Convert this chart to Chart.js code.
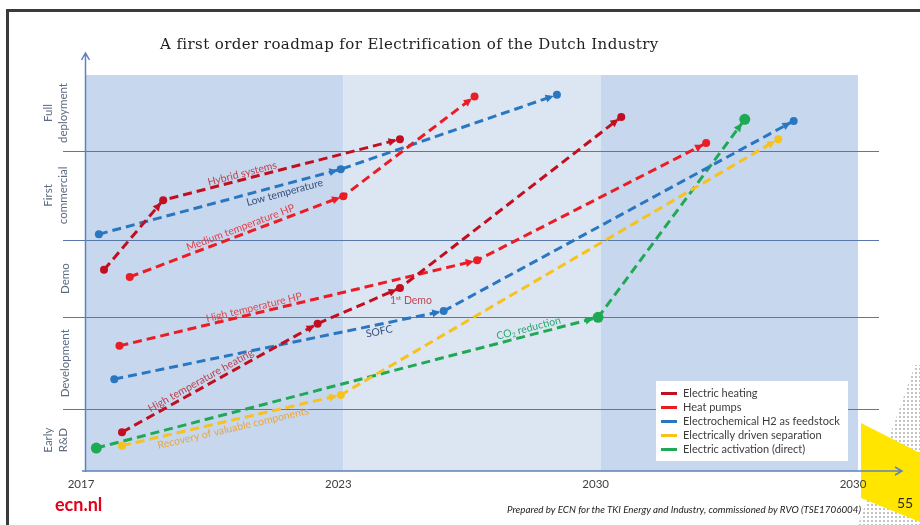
<!DOCTYPE html>
<html>
<head>
<meta charset="utf-8">
<script src="https://cdn.jsdelivr.net/npm/chart.js@4/dist/chart.umd.min.js"></script>
<style>
  html, body { margin: 0; padding: 0; background: #fff; }
  #slide { position: relative; width: 920px; height: 525px; overflow: hidden; background: #fff; }
  #roadmap { position: absolute; left: 0; top: 0; z-index: 2; }
  .frame { position: absolute; left: 6px; top: 9px; width: 960px; height: 560px; z-index: 3;
           border-top: 3px solid #3a3a3a; border-left: 3px solid #3a3a3a; }
  #title { position: absolute; left: 160px; top: 35px; font-family: "DejaVu Serif"; font-size: 15px;
           letter-spacing: 0.4px; color: #1e1e1e; white-space: nowrap; z-index: 3; }
  #brand { position: absolute; left: 55px; top: 493px; font-family: Lato; font-weight: bold;
           font-size: 18px; color: #e2001a; z-index: 3; }
  #credit { position: absolute; left: 507px; top: 503px; font-family: Lato; font-style: italic;
            font-size: 9.8px; color: #222; white-space: nowrap; z-index: 3; }
  #dots { position: absolute; left: 850px; top: 355px; width: 70px; height: 170px; z-index: 1;
          background-image: radial-gradient(circle, #c4c4c4 0.9px, transparent 1.2px);
          background-size: 4px 4px;
          clip-path: polygon(65px 10px, 70px 10px, 70px 170px, 8px 170px); }
  #flash { position: absolute; left: 861px; top: 423px; width: 59px; height: 100px; background: #ffe500; z-index: 1;
           clip-path: polygon(0 0, 59px 30px, 59px 99px, 0 75px); }
  #page { position: absolute; left: 897px; top: 494px; font-family: Lato; font-size: 14px; color: #2b2b2b; z-index: 3; }
</style>
</head>
<body>
<div id="slide">
  <div id="dots"></div>
  <div id="flash"></div>
  <canvas id="roadmap" width="920" height="525"></canvas>
  <div class="frame"></div>
  <div id="title">A first order roadmap for Electrification of the Dutch Industry</div>
  <div id="brand">ecn.nl</div>
  <div id="credit">Prepared by ECN for the TKI Energy and Industry, commissioned by RVO (TSE1706004)</div>
  <div id="page">55</div>
</div>
<script>
// ---- Axis labels -------------------------------------------------------
// x: planning period (0 = 2017, 1 = 2023, 2 = 2030, 3 = end of horizon)
const periodLabels = ['2017', '2023', '2030', '2030'];
// y: maturity stages, bottom to top, and the maturity level where each stage ends
const stageNames = [['Early', 'R&D'], ['Development'], ['Demo'], ['First', 'commercial'], ['Full', 'deployment']];
const stageBounds = [0.78, 1.94, 2.92, 4.04];

// ---- Technology groups -------------------------------------------------
const groupNames = ['Electric heating', 'Heat pumps', 'Electrochemical H2 as feedstock',
                    'Electrically driven separation', 'Electric activation (direct)'];
const groupColors = ['#c10f1f', '#ec1c24', '#2a77c1', '#f7c21b', '#1fa955'];

// ---- Roadmap paths (period, maturity) ---------------------------------
// Electric heating
const hybridSystemsX   = [0.07, 0.30, 1.22];
const hybridSystemsY   = [2.54, 3.42, 4.19];
const highTempHeatingX = [0.14, 0.90, 1.22, 2.08];
const highTempHeatingY = [0.49, 1.86, 2.31, 4.47];
// Heat pumps
const mediumTempHpX = [0.17, 1.00, 1.51];
const mediumTempHpY = [2.45, 3.47, 4.73];
const highTempHpX   = [0.13, 1.52, 2.41];
const highTempHpY   = [1.58, 2.66, 4.14];
// Electrochemical H2 as feedstock
const lowTempX = [0.05, 0.99, 1.83];
const lowTempY = [2.99, 3.81, 4.75];
const sofcX    = [0.11, 1.39, 2.75];
const sofcY    = [1.16, 2.02, 4.42];
// Electrically driven separation
const recoveryX = [0.14, 0.99, 2.69];
const recoveryY = [0.32, 0.96, 4.19];
// Electric activation (direct)
const co2ReductionX = [0.04, 1.99, 2.56];
const co2ReductionY = [0.29, 1.94, 4.44];

const routes = [
  { name: 'Hybrid systems',                  group: 0, x: hybridSystemsX,   y: hybridSystemsY },
  { name: 'High temperature heating',        group: 0, x: highTempHeatingX, y: highTempHeatingY },
  { name: 'Medium temperature HP',           group: 1, x: mediumTempHpX,    y: mediumTempHpY },
  { name: 'High temperature HP',             group: 1, x: highTempHpX,      y: highTempHpY },
  { name: 'Low temperature',                 group: 2, x: lowTempX,         y: lowTempY },
  { name: 'SOFC',                            group: 2, x: sofcX,            y: sofcY },
  { name: 'Recovery of valuable components', group: 3, x: recoveryX,        y: recoveryY },
  { name: 'CO2 reduction',                   group: 4, x: co2ReductionX,    y: co2ReductionY },
];

// Where each path caption sits: segment, fraction along it, offset across it (px, + = below)
const captionStyle = [
  { route: 0, seg: 1, t: 0.34, off: -6, color: '#c4404e', parts: [{ s: 'Hybrid systems' }] },
  { route: 1, seg: 0, t: 0.42, off: -7, color: '#b8404c', parts: [{ s: 'High temperature heating' }] },
  { route: 2, seg: 0, t: 0.53, off: -7, color: '#e6404a', parts: [{ s: 'Medium temperature HP' }] },
  { route: 3, seg: 0, t: 0.38, off: -6, color: '#dc4a4c', parts: [{ s: 'High temperature HP' }] },
  { route: 4, seg: 0, t: 0.76, off: 8,  color: '#34507c', parts: [{ s: 'Low temperature' }] },
  { route: 5, seg: 0, t: 0.80, off: 7,  color: '#34507c', parts: [{ s: 'SOFC' }] },
  { route: 6, seg: 0, t: 0.50, off: 8,  color: '#eda53a', parts: [{ s: 'Recovery of valuable components' }] },
  { route: 7, seg: 0, t: 0.865, off: -7, color: '#2aa66c', parts: [{ s: 'CO' }, { s: '2', sub: true }, { s: ' reduction' }] },
  { route: 1, seg: 2, t: 0, dx: 11, dy: 13, flat: true, color: '#c4485a',
    parts: [{ s: '1' }, { s: 'st', sup: true }, { s: ' Demo' }] },
];

const FONT = 'Lato, "Open Sans", sans-serif';

function drawRich(ctx, parts, size) {
  const small = size * 0.62;
  let w = 0;
  const widths = parts.map(p => {
    ctx.font = (p.sup || p.sub ? small : size) + 'px ' + FONT;
    const m = ctx.measureText(p.s).width;
    w += m;
    return m;
  });
  let x = -w / 2;
  parts.forEach((p, i) => {
    ctx.font = (p.sup || p.sub ? small : size) + 'px ' + FONT;
    const dy = p.sup ? -size * 0.32 : (p.sub ? size * 0.28 : 0);
    ctx.fillText(p.s, x, dy);
    x += widths[i];
  });
}

const roadmapDecor = {
  id: 'roadmapDecor',
  beforeDatasetsDraw(chart) {
    const { ctx, chartArea: a, scales: { x, y } } = chart;
    ctx.save();
    // period bands
    const bandFill = ['#c7d7ee', '#dce5f2', '#c7d7ee'];
    for (let i = 0; i < 3; i++) {
      const l = x.getPixelForValue(i), r = x.getPixelForValue(i + 1);
      ctx.fillStyle = bandFill[i];
      ctx.fillRect(l, a.top, r - l, a.bottom - a.top);
    }
    // stage boundaries
    ctx.strokeStyle = '#5878aa';
    ctx.lineWidth = 1.2;
    stageBounds.forEach(v => {
      const py = Math.round(y.getPixelForValue(v)) + 0.5;
      ctx.beginPath();
      ctx.moveTo(a.left - 23, py);
      ctx.lineTo(a.right + 21, py);
      ctx.stroke();
    });
    // axes with open arrow heads
    ctx.strokeStyle = '#5d83ba';
    ctx.lineWidth = 1.5;
    const x0 = a.left - 0.5, y0 = a.bottom;
    ctx.beginPath();
    ctx.moveTo(x0, y0 + 1); ctx.lineTo(x0, a.top - 22);
    ctx.moveTo(x0 - 4, a.top - 15); ctx.lineTo(x0, a.top - 22); ctx.lineTo(x0 + 4, a.top - 15);
    ctx.moveTo(a.left - 4, y0); ctx.lineTo(a.right + 44, y0);
    ctx.moveTo(a.right + 37, y0 - 4); ctx.lineTo(a.right + 44, y0); ctx.lineTo(a.right + 37, y0 + 4);
    ctx.stroke();
    ctx.restore();
  },
  afterDatasetsDraw(chart) {
    const { ctx, chartArea: a } = chart;
    ctx.save();
    // arrow heads at the end of every path segment
    chart.data.datasets.forEach((ds, di) => {
      const pts = chart.getDatasetMeta(di).data;
      const r = ds.pointRadius;
      ctx.fillStyle = ds.borderColor;
      for (let i = 1; i < pts.length; i++) {
        const p0 = pts[i - 1], p1 = pts[i];
        const dx = p1.x - p0.x, dy = p1.y - p0.y, len = Math.hypot(dx, dy);
        const ux = dx / len, uy = dy / len;
        const tx = p1.x - ux * (r - 0.5), ty = p1.y - uy * (r - 0.5);
        const bx = tx - ux * 8, by = ty - uy * 8;
        ctx.beginPath();
        ctx.moveTo(tx, ty);
        ctx.lineTo(bx - uy * 4, by + ux * 4);
        ctx.lineTo(bx + uy * 4, by - ux * 4);
        ctx.closePath();
        ctx.fill();
      }
    });
    // path captions
    ctx.textBaseline = 'middle';
    ctx.textAlign = 'left';
    captionStyle.forEach(c => {
      const pts = chart.getDatasetMeta(c.route).data;
      const p0 = pts[c.seg], p1 = pts[c.seg + 1];
      const dx = p1.x - p0.x, dy = p1.y - p0.y, len = Math.hypot(dx, dy);
      const ux = dx / len, uy = dy / len;
      ctx.save();
      ctx.fillStyle = c.color;
      if (c.flat) {
        ctx.translate(p0.x + c.dx, p0.y + c.dy);
      } else {
        const px = p0.x + dx * c.t - uy * c.off;
        const py = p0.y + dy * c.t + ux * c.off;
        ctx.translate(px, py);
        ctx.rotate(Math.atan2(dy, dx));
      }
      drawRich(ctx, c.parts, 10.5);
      ctx.restore();
    });
    // legend box
    const lx = a.right - 202, ly = a.bottom - 90;
    ctx.fillStyle = '#ffffff';
    ctx.fillRect(lx, ly, 192, 80);
    ctx.font = '11px ' + FONT;
    groupNames.forEach((name, i) => {
      const ry = ly + 12.5 + i * 14;
      ctx.fillStyle = groupColors[i];
      ctx.fillRect(lx + 5, ry - 1.5, 16, 3);
      ctx.fillStyle = '#3c3c3c';
      ctx.fillText(name, lx + 27, ry);
    });
    ctx.restore();
  },
  afterDraw(chart) {
    const { ctx, chartArea: a, scales: { y } } = chart;
    ctx.save();
    ctx.fillStyle = '#5d6b80';
    ctx.font = '11.5px ' + FONT;
    ctx.textAlign = 'center';
    ctx.textBaseline = 'middle';
    const edges = [0, ...stageBounds, 5];
    stageNames.forEach((lines, i) => {
      const cy = (y.getPixelForValue(edges[i]) + y.getPixelForValue(edges[i + 1])) / 2;
      lines.forEach((txt, k) => {
        const cx = lines.length === 1 ? a.left - 21 : a.left - 38 + k * 15;
        ctx.save();
        ctx.translate(cx, cy);
        ctx.rotate(-Math.PI / 2);
        ctx.fillText(txt, 0, 0);
        ctx.restore();
      });
    });
    ctx.restore();
  }
};

const datasets = routes.map(r => ({
  label: r.name,
  data: r.x.map((v, i) => ({ x: v, y: r.y[i] })),
  borderColor: groupColors[r.group],
  backgroundColor: groupColors[r.group],
  pointBackgroundColor: groupColors[r.group],
  pointBorderWidth: 0,
  pointRadius: r.group === 4 ? 5.5 : 4,
  borderWidth: 3,
  borderDash: [9, 5],
  borderCapStyle: 'butt',
  tension: 0,
  fill: false
}));

new Chart(document.getElementById('roadmap'), {
  type: 'line',
  data: { datasets },
  options: {
    responsive: false,
    animation: false,
    devicePixelRatio: 1,
    layout: { padding: { left: 86, right: 62, top: 75, bottom: 0 } },
    plugins: { legend: { display: false }, tooltip: { enabled: false } },
    scales: {
      x: {
        type: 'linear', min: 0, max: 3, position: 'bottom',
        grid: { display: false, drawTicks: false },
        border: { display: false },
        ticks: {
          stepSize: 1, autoSkip: false, maxRotation: 0, padding: 6, labelOffset: -5,
          color: '#404040', font: { family: FONT, size: 11.5 },
          callback: v => periodLabels[v] ?? ''
        },
        afterFit: s => { s.height = 54; }
      },
      y: { type: 'linear', min: 0, max: 5, display: false }
    }
  },
  plugins: [roadmapDecor]
});
</script>
</body>
</html>
